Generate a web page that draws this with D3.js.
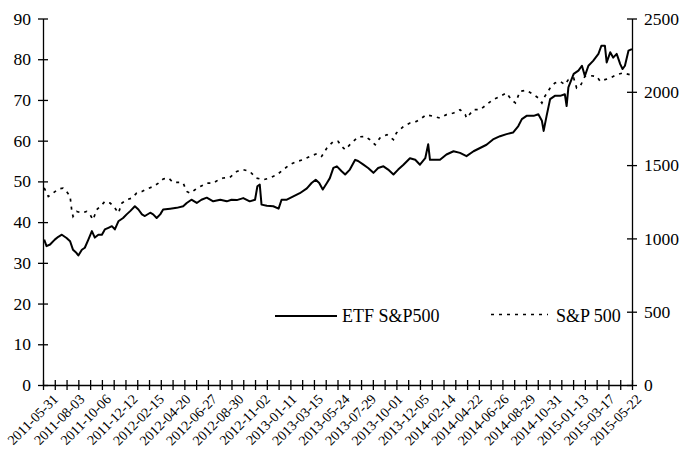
<!DOCTYPE html>
<html>
<head>
<meta charset="utf-8">
<script src="https://cdn.jsdelivr.net/npm/d3@7"></script>
<style>
  html, body { margin: 0; padding: 0; background: #fff; }
  svg { display: block; font-family: "Liberation Serif", "Times New Roman", serif; }
</style>
</head>
<body>
<svg id="chart" width="681" height="449"></svg>
<script>
// ---- data (trading-day index since 2011-05-31) ----
const tickLabels = ["2011-05-31","2011-08-03","2011-10-06","2011-12-12","2012-02-15","2012-04-20",
  "2012-06-27","2012-08-30","2012-11-02","2013-01-11","2013-03-15","2013-05-24","2013-07-29",
  "2013-10-01","2013-12-05","2014-02-14","2014-04-22","2014-06-26","2014-08-29","2014-10-31",
  "2015-01-13","2015-03-17","2015-05-22"];
const labelStep = 45;      // trading days between labels
const tickStep = 20;       // trading days between tick marks
const lastDay = 1000;

const etfDays = [2,6,12,20,26,32,40,46,51,57,60,66,71,77,83,88,94,100,105,111,117,122,128,136,142,148,156,162,
  168,173,182,187,193,199,204,216,227,238,244,252,261,269,278,289,301,312,320,329,340,351,360,364,368,371,380,
  391,400,405,414,425,436,448,456,463,469,475,482,487,493,499,507,513,521,530,535,544,552,561,569,578,586,595,
  603,612,623,632,640,649,654,657,674,685,697,708,719,731,742,753,764,776,787,798,807,813,821,833,841,847,850,
  855,861,869,878,886,889,892,901,909,915,920,926,934,943,948,954,957,963,968,974,980,984,988,994,1000];
const etfValues = [35.7,34.1,34.5,35.7,36.4,36.9,36.1,35.3,33.2,32.4,31.8,33.2,33.7,35.7,37.8,36.2,36.9,36.9,38.2,
  38.6,39.0,38.2,40.2,41.0,41.9,42.7,43.9,43.1,41.9,41.5,42.3,41.9,41.0,41.9,43.1,43.3,43.5,43.9,44.7,45.5,44.7,
  45.5,46.0,45.1,45.5,45.1,45.5,45.4,45.9,45.1,45.5,48.8,49.2,44.3,44.0,43.9,43.3,45.5,45.5,46.3,47.1,48.3,49.6,
  50.4,49.6,48.0,49.6,50.8,53.3,53.7,52.5,51.7,52.9,55.3,55.0,54.1,53.3,52.1,53.3,53.7,52.9,51.7,52.9,54.1,55.7,
  55.3,54.1,55.7,59.1,55.3,55.3,56.6,57.4,57.0,56.2,57.4,58.2,59.0,60.3,61.1,61.6,62.0,63.6,65.3,66.1,66.1,66.5,
  64.9,62.4,66.1,70.2,71.0,71.0,71.4,68.5,73.1,76.4,77.2,78.4,75.9,78.4,79.6,81.3,83.3,83.3,79.2,81.7,80.4,81.3,
  78.8,77.6,78.4,82.1,82.5];

const spxDays = [2,9,17,26,34,40,46,49,51,57,66,74,80,85,91,100,105,114,122,128,134,142,151,159,168,176,187,196,
  204,213,221,233,238,244,250,258,267,278,289,298,306,317,329,340,351,362,374,385,397,408,419,431,442,453,465,
  473,482,493,501,507,513,521,535,547,555,564,572,584,595,600,612,623,634,643,651,674,685,697,708,717,719,731,
  742,753,764,776,787,795,802,810,821,833,841,847,852,861,869,878,886,892,901,906,912,920,929,940,946,954,963,
  974,985,996];
const spxValues = [1344,1286,1309,1337,1343,1320,1286,1184,1150,1184,1173,1184,1161,1127,1195,1229,1252,1241,1207,
  1173,1241,1264,1275,1309,1320,1337,1354,1377,1405,1412,1382,1382,1377,1320,1309,1332,1354,1377,1377,1400,1412,
  1415,1457,1469,1457,1412,1400,1412,1434,1469,1503,1525,1537,1559,1578,1559,1617,1662,1662,1628,1605,1639,1692,
  1696,1673,1639,1685,1707,1673,1719,1764,1787,1798,1821,1844,1821,1844,1855,1878,1844,1821,1878,1878,1912,1947,
  1969,1992,1947,1924,2003,2010,1981,1958,1924,1969,2026,2060,2071,2049,2083,2094,2026,2037,2105,2110,2105,2071,
  2083,2094,2117,2129,2117];

const leftTicks = [0,10,20,30,40,50,60,70,80,90];
const rightTicks = [0,500,1000,1500,2000,2500];
const seriesNames = ["ETF S&P500", "S&P 500"];

// ---- layout ----
const FONT = "Liberation Serif, Times New Roman, serif";
const svg = d3.select("#chart");
const x0 = 43, x1 = 632, yTop = 18.5, yBot = 385;

const x = d3.scaleLinear().domain([0, lastDay]).range([x0, x1]);
const yL = d3.scaleLinear().domain([0, 90]).range([yBot, yTop]);
const yR = d3.scaleLinear().domain([0, 2500]).range([yBot, yTop]);

// lines
const etfLine = d3.line().x((d, i) => x(etfDays[i])).y(d => yL(d));
const spxLine = d3.line().x((d, i) => x(spxDays[i])).y(d => yR(d));

svg.append("path").attr("d", spxLine(spxValues))
  .attr("fill", "none").attr("stroke", "#000").attr("stroke-width", 1.7)
  .attr("stroke-dasharray", "3,5");
svg.append("path").attr("d", etfLine(etfValues))
  .attr("fill", "none").attr("stroke", "#000").attr("stroke-width", 2)
  .attr("stroke-linejoin", "round");

// axes
function crossTicks(g, horizontal) {
  g.selectAll(".tick line").attr(horizontal ? "y1" : "x1", -5).attr(horizontal ? "y2" : "x2", 5)
    .attr("stroke-width", 1.3);
  g.select(".domain").attr("stroke-width", 1.3);
  g.selectAll("text").attr("font-size", 17.5).attr("font-family", FONT).attr("fill", "#000");
}

const gL = svg.append("g").attr("transform", `translate(${x0},0)`)
  .call(d3.axisLeft(yL).tickValues(leftTicks).tickFormat(d3.format("d"))
    .tickSizeInner(5).tickSizeOuter(0).tickPadding(7));
crossTicks(gL, false);

const gR = svg.append("g").attr("transform", `translate(${x1},0)`)
  .call(d3.axisRight(yR).tickValues(rightTicks).tickFormat(d3.format("d"))
    .tickSizeInner(5).tickSizeOuter(0).tickPadding(7));
crossTicks(gR, false);

const gX = svg.append("g").attr("transform", `translate(0,${yBot})`)
  .call(d3.axisBottom(x).tickValues(d3.range(0, lastDay + 1, tickStep)).tickFormat("")
    .tickSizeInner(5).tickSizeOuter(0));
crossTicks(gX, true);

svg.append("g").selectAll("text").data(tickLabels).join("text")
  .attr("transform", (d, i) => `translate(${x(i * labelStep) + 16},${400}) rotate(-45)`)
  .attr("text-anchor", "end")
  .attr("font-size", 14)
  .attr("font-family", FONT)
  .attr("fill", "#000")
  .text(d => d);

// legend
const lg = svg.append("g").attr("font-family", FONT).attr("font-size", 18);
lg.append("line").attr("x1", 275).attr("x2", 337).attr("y1", 316).attr("y2", 316)
  .attr("stroke", "#000").attr("stroke-width", 2);
lg.append("text").attr("x", 342).attr("y", 322).text(seriesNames[0]);
lg.append("line").attr("x1", 491).attr("x2", 548).attr("y1", 314.5).attr("y2", 314.5)
  .attr("stroke", "#000").attr("stroke-width", 1.7).attr("stroke-dasharray", "3,5");
lg.append("text").attr("x", 556).attr("y", 322).text(seriesNames[1]);
</script>
</body>
</html>
